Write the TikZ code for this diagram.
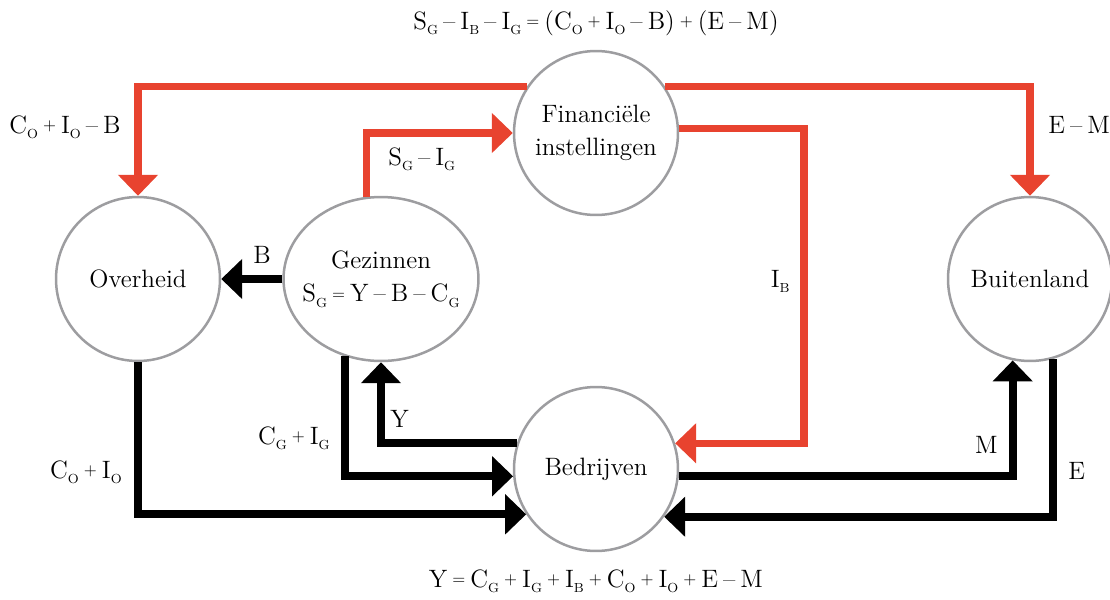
\documentclass[tikz,border=0pt]{standalone}
\usepackage{tikz}
\usetikzlibrary{arrows.meta,shapes.geometric}
\definecolor{flowred}{RGB}{232,67,47}
\definecolor{ringgray}{RGB}{157,157,160}
\newcommand{\lo}[1]{\raisebox{-3pt}{\fontsize{7.5}{8}\selectfont #1}}
\newcommand{\pl}{\raisebox{1.2pt}{\fontsize{9.5}{10}\selectfont +}}
\newcommand{\eq}{\raisebox{1.2pt}{\fontsize{9.5}{10}\selectfont =}}
\newcommand{\diafont}{\fontsize{14.3}{19}\selectfont\spaceskip=0.2em\relax}
\tikzset{
    sector/.style={circle, draw=ringgray, line width=0.05cm, fill=white,
        minimum size=3.28cm, inner sep=0pt, align=center},
    blackflow/.style={draw=black, line width=0.16cm, -{Triangle[width=0.78cm,length=0.42cm]}},
    redflow/.style={blackflow, draw=flowred, line width=0.15cm},
    lbl/.style={inner sep=0pt}
}
\begin{document}
\begin{tikzpicture}[x=0.02cm, y=-0.02cm, font=\diafont]
    \useasboundingbox (0,0) rectangle (1110,599);
    % sectors of the economy
    \node[sector] (fin) at (596,133) {Financiële\\instellingen};
    \node[sector] (ovh) at (138,279) {Overheid};
    \node[sector, ellipse, minimum width=3.9cm, inner xsep=-0.4cm] (gez) at (381,279) {Gezinnen\\S\lo{G} \eq{} Y -- B -- C\lo{G}};
    \node[sector] (bui) at (1030,279) {Buitenland};
    \node[sector] (bed) at (596,469) {Bedrijven};
    \coordinate (ibturn) at (804,0);
    % financial flows (red)
    \draw[redflow] (fin.146) -| (ovh);
    \draw[redflow] (fin.34) -| (bui);
    \draw[redflow] (gez.100) |- (fin);
    \draw[redflow] (fin.3) -| (ibturn |- bed.18) -- (bed.18);
    % goods and income flows (black)
    \draw[blackflow] (gez) -- (ovh);
    \draw[blackflow] (ovh) |- (bed.213);
    \draw[blackflow] (gez.245) |- (bed.185);
    \draw[blackflow] (bed.162) -| (gez);
    \draw[blackflow] (bed.-5) -| (bui.258);
    \draw[blackflow] (bui.286) |- (bed.-35);
    % labels
    \node[lbl, anchor=base] (tsum) at (596,29) {S\lo{G} -- I\lo{B} -- I\lo{G} \eq{} (C\lo{O} \pl{} I\lo{O} -- B) \pl{} (E -- M)};
    \node[lbl, anchor=base] (bsum) at (596,587) {Y \eq{} C\lo{G} \pl{} I\lo{G} \pl{} I\lo{B} \pl{} C\lo{O} \pl{} I\lo{O} \pl{} E -- M};
    \node[lbl, anchor=base east] (lcoiob) at (121,133) {C\lo{O} \pl{} I\lo{O} -- B};
    \node[lbl, anchor=base west] (lem) at (1048,133) {E -- M};
    \node[lbl, anchor=base west] (lsgig) at (388,165) {S\lo{G} -- I\lo{G}};
    \node[lbl, anchor=base] (lb) at (262,263) {B};
    \node[lbl, anchor=base east] (lib) at (790,287) {I\lo{B}};
    \node[lbl, anchor=base east] (lcoio) at (122,478) {C\lo{O} \pl{} I\lo{O}};
    \node[lbl, anchor=base east] (lcgig) at (330,444) {C\lo{G} \pl{} I\lo{G}};
    \node[lbl, anchor=base west] (ly) at (390,427) {Y};
    \node[lbl, anchor=base east] (lm) at (998,453) {M};
    \node[lbl, anchor=base west] (le) at (1068,479) {E};
\end{tikzpicture}
\end{document}
